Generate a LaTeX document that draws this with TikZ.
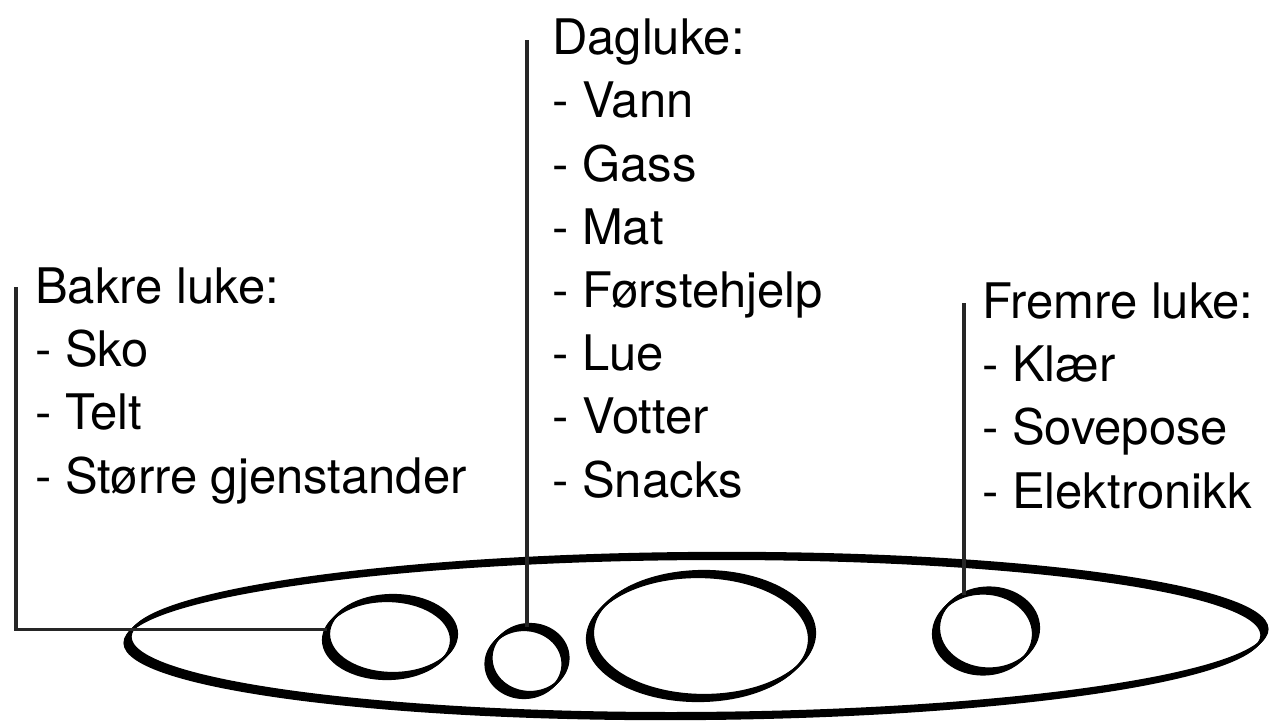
\documentclass[tikz,border=0pt]{standalone}
\usepackage{fontspec}
\setmainfont{TeX Gyre Heros}
\usetikzlibrary{shapes.geometric, positioning}

\begin{document}
\begin{tikzpicture}[x=1pt, y=-1pt,
    pensel/.style={draw, line width=2.2pt,
        preaction={draw, line width=2.2pt, transform canvas={shift={(-3pt,-3pt)}}},
        preaction={draw, line width=2.2pt, transform canvas={shift={(-2pt,-2pt)}}},
        preaction={draw, line width=2.2pt, transform canvas={shift={(-1pt,-1pt)}}},
        preaction={draw, line width=2.2pt, transform canvas={shift={(1pt,1pt)}}},
        preaction={draw, line width=2.2pt, transform canvas={shift={(2pt,2pt)}}},
        preaction={draw, line width=2.2pt, transform canvas={shift={(3pt,3pt)}}}},
    luke/.style={ellipse, pensel, inner sep=0pt, outer sep=0pt},
    liste/.style={anchor=base west, align=left, inner sep=0pt, font=\fontsize{49}{63.2}\selectfont},
    strek/.style={line width=3.5pt, black!85}]

    \useasboundingbox (0,0) rectangle (1274,720);

    % Sekken og lukene
    \node[luke, minimum width=1137pt, minimum height=160pt, rotate=0.4] (sekk) at (696,636) {};
    \node[luke, minimum width=128pt, minimum height=78pt] (bakreluke) at (390,637) {};
    \node[luke, minimum width=77pt, minimum height=68pt] (dagluke) at (527,661) {};
    \node[luke, minimum width=222pt, minimum height=124pt] (hovedluke) at (701,636) {};
    \node[luke, minimum width=100pt, minimum height=81pt] (fremreluke) at (986,631) {};

    % Innhold i hver luke (plassert etter siste linje)
    \node[liste] (bakretekst) at (35,493) {Bakre luke:\\- Sko\\- Telt\\- Større gjenstander};
    \node[liste] (dagtekst) at (552,497) {Dagluke:\\- Vann\\- Gass\\- Mat\\- Førstehjelp\\- Lue\\- Votter\\- Snacks};
    \node[liste] (fremretekst) at (982,508) {Fremre luke:\\- Klær\\- Sovepose\\- Elektronikk};

    % Streker fra teksten ned til lukene
    \coordinate (bakretopp) at (16,287);
    \coordinate (dagtopp) at (527,40);
    \coordinate (fremretopp) at (964,303);
    \draw[strek] (bakretopp) |- (bakreluke.173);
    \draw[strek] (dagtopp) -- (dagluke.north);
    \draw[strek] (fremretopp) -- (fremretopp |- fremreluke.121);

\end{tikzpicture}
\end{document}
